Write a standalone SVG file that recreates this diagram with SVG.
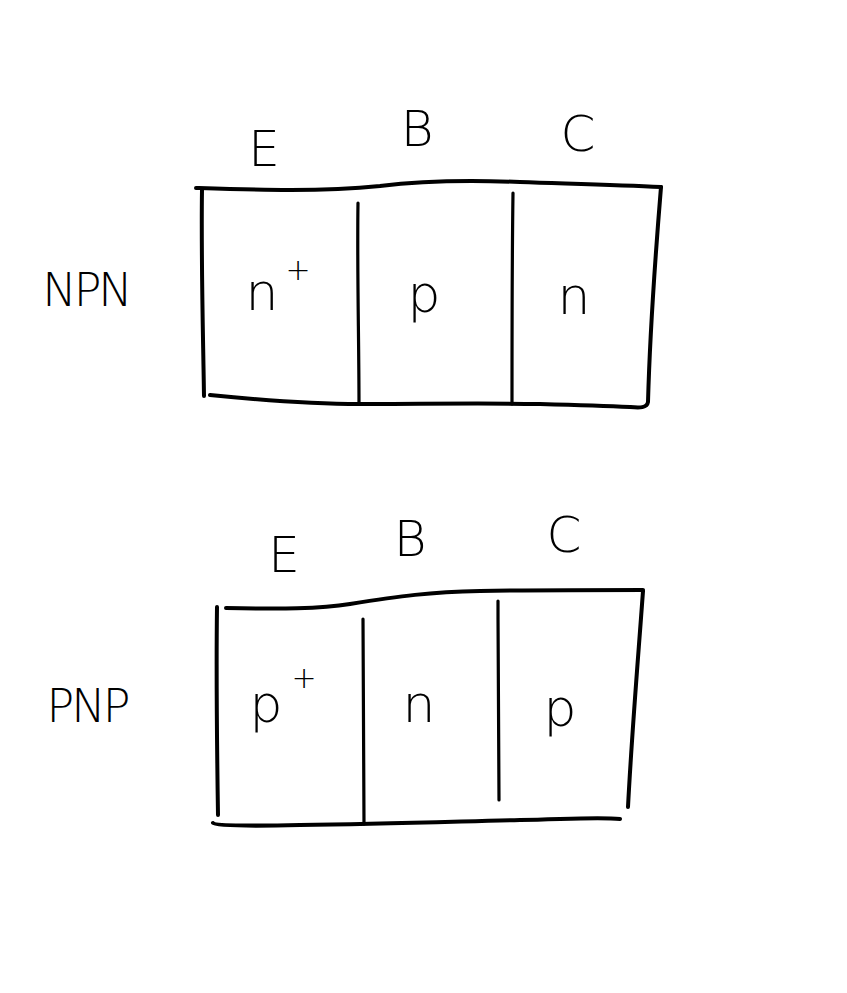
<svg xmlns="http://www.w3.org/2000/svg" width="847" height="993" viewBox="0 0 847 993">
<style>
.ln{fill:none;stroke:#000;stroke-width:4;stroke-linecap:round;stroke-linejoin:round}
.dv{fill:none;stroke:#000;stroke-width:3.2;stroke-linecap:round}
.t{font-family:"DejaVu Sans","Noto Sans",sans-serif;font-weight:300;fill:#000;text-anchor:middle}
.lb{font-size:50px}
.rg{font-size:52px}
.sup{font-size:30px}
.side{font-size:46px;letter-spacing:-3px}
</style>
<rect width="847" height="993" fill="#fff"/>
<g id="npn">
  <g id="npn-box">
    <path class="ln" d="M196,188 C260,190 320,192 380,186 C420,181 470,180 520,182 C580,184 620,185 661,187"/>
    <path class="ln" d="M202,190 C201,260 203,330 204,396"/>
    <path class="ln" d="M661,187 C655,260 650,330 648,402 C647,408 640,408 630,407"/>
    <path class="ln" d="M210,395 C260,400 310,404 360,404 C420,404 480,403 540,404 C580,405 610,406 630,407"/>
    <path class="dv" d="M358,203 C357,270 359,340 359,404"/>
    <path class="dv" d="M513,193 C512,260 512,340 512,404"/>
  </g>
  <text class="t lb" x="264" y="166">E</text>
  <text class="t lb" x="417" y="146" font-size="40">B</text>
  <text class="t lb" x="578" y="151">C</text>
  <text class="t side" x="86" y="306">NPN</text>
  <text class="t rg" x="262" y="310">n</text>
  <text class="t sup" x="298" y="280">+</text>
  <text class="t rg" x="424" y="312">p</text>
  <text class="t rg" x="574" y="314">n</text>
</g>
<g id="pnp">
  <g id="pnp-box">
    <path class="ln" d="M226,608 C280,609 320,609 350,604 C400,596 430,592 480,591 C540,590 600,590 643,590"/>
    <path class="ln" d="M217,607 C216,680 217,750 218,815"/>
    <path class="ln" d="M643,591 C638,660 632,730 628,807"/>
    <path class="ln" d="M213,823 C215,826 260,826 300,825 C380,824 440,822 520,820 C570,819 600,817 620,819"/>
    <path class="dv" d="M363,619 C363,690 364,760 364,824"/>
    <path class="dv" d="M498,601 C498,670 499,740 499,800"/>
  </g>
  <text class="t lb" x="284" y="572">E</text>
  <text class="t lb" x="410" y="556" font-size="40">B</text>
  <text class="t lb" x="564" y="552">C</text>
  <text class="t side" x="87" y="722">PNP</text>
  <text class="t rg" x="266" y="722">p</text>
  <text class="t sup" x="304" y="688">+</text>
  <text class="t rg" x="419" y="722">n</text>
  <text class="t rg" x="560" y="726">p</text>
</g>
</svg>
